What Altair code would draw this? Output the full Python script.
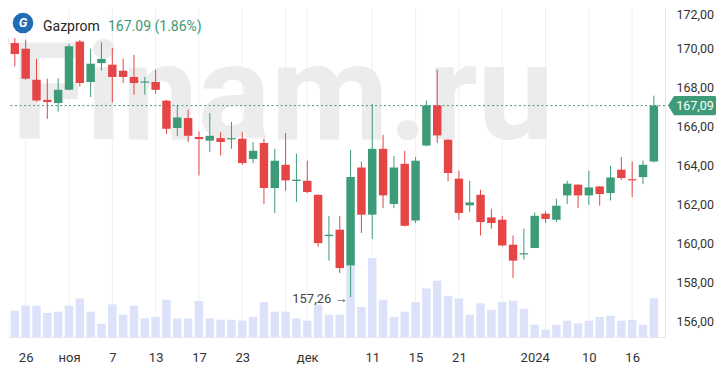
import altair as alt
import pandas as pd

# ---- data ----
idx = list(range(61))
opens = [170.50, 170.30, 170.01, 168.42, 167.39, 167.22, 167.90, 170.38, 168.30, 169.27,
         169.19, 168.88, 168.56, 168.27, 168.30, 167.34, 165.94, 166.45, 165.48, 165.29,
         165.42, 165.36, 165.39, 164.35, 165.17, 162.86, 164.05, 163.22, 163.23, 162.51,
         160.39, 160.72, 158.88, 163.91, 161.49, 164.87, 162.04, 164.10, 161.19, 165.04,
         167.10, 165.34, 163.34, 161.97, 162.51, 161.35, 161.23, 159.95, 159.45, 159.78,
         161.54, 161.23, 162.48, 163.03, 162.48, 162.94, 162.60, 163.80, 163.31, 163.42,
         164.22]
highs = [171.24, 170.56, 170.47, 169.49, 168.47, 168.50, 170.26, 170.47, 170.01, 170.33,
         170.04, 169.49, 169.70, 168.56, 168.93, 167.38, 167.13, 166.88, 165.76, 166.71,
         165.73, 166.25, 165.73, 165.22, 165.39, 164.87, 165.68, 164.62, 164.26, 162.53,
         161.43, 161.43, 164.82, 164.22, 167.17, 165.59, 164.50, 164.77, 164.45, 167.35,
         168.93, 165.36, 163.75, 163.23, 162.77, 161.79, 161.43, 160.42, 160.77, 161.60,
         161.66, 162.31, 163.23, 163.05, 163.75, 162.96, 164.00, 164.45, 164.22, 164.26,
         167.60]
lows = [169.85, 169.10, 168.42, 167.29, 166.41, 166.79, 167.88, 168.07, 167.53, 168.89,
        167.25, 168.25, 167.65, 167.65, 167.70, 165.64, 165.54, 165.22, 163.50, 164.71,
        164.53, 164.87, 164.05, 164.14, 162.04, 161.57, 162.72, 162.14, 162.60, 159.86,
        159.13, 158.49, 157.26, 160.55, 160.24, 161.83, 161.83, 160.89, 161.06, 165.00,
        165.17, 163.20, 161.23, 161.62, 160.42, 160.77, 159.86, 158.24, 159.18, 159.78,
        161.06, 161.11, 162.04, 161.83, 162.00, 161.95, 162.22, 163.28, 162.40, 163.06,
        164.17]
closes = [170.25, 169.74, 168.47, 167.35, 167.27, 167.90, 170.13, 168.25, 169.24, 169.49,
          168.56, 168.56, 168.25, 168.33, 167.90, 165.90, 166.48, 165.54, 165.37, 165.54,
          165.22, 165.42, 164.14, 164.77, 162.86, 164.26, 163.25, 163.29, 162.65, 160.03,
          160.46, 158.75, 163.42, 161.49, 164.87, 162.48, 163.91, 160.92, 164.26, 167.10,
          165.56, 163.63, 161.58, 162.12, 161.11, 161.06, 159.91, 159.13, 159.51, 161.43,
          161.27, 161.95, 163.08, 162.48, 162.89, 162.55, 163.40, 163.37, 163.25, 164.05,
          167.09]
volumes = [24.0, 26.3, 31.3, 31.3, 24.0, 25.3, 31.3, 38.6, 25.3, 13.3,
           32.6, 22.3, 31.3, 18.6, 20.0, 37.3, 18.6, 18.6, 36.0, 18.6,
           17.3, 17.3, 16.3, 20.0, 35.0, 25.3, 25.3, 18.6, 16.3, 32.3,
           22.3, 22.3, 71.0, 30.0, 79.0, 37.3, 20.0, 25.3, 35.0, 48.6,
           56.3, 41.3, 38.6, 22.3, 33.6, 27.3, 35.0, 36.3, 28.3, 12.3,
           7.3, 12.3, 16.3, 13.6, 16.3, 20.0, 21.3, 16.3, 17.3, 12.3,
           38.6]
tick_idx = [2, 6, 10, 14, 18, 22, 28, 34, 38, 42, 49, 54, 58]
tick_labels = ["26", "ноя", "7", "13", "17", "23", "дек", "11", "15", "21", "2024", "10", "16"]
grid_idx = [2, 6, 10, 14, 18, 22, 26, 28, 34, 38, 42, 46, 50, 54, 58]
price_ticks = [156, 158, 160, 162, 164, 166, 168, 170, 172]
last_price = 167.09
change_pct = 1.86
low_idx = 32
low_value = 157.26
ticker = "Gazprom"
watermark = "Finam.ru"

GREEN = "#3e9b78"
RED = "#e54545"
VOL = "#dde2fb"
GRID = "#eef0f4"
FONT = "Roboto"

df = pd.DataFrame({"i": idx, "o": opens, "h": highs, "l": lows, "c": closes, "v": volumes})
df["dir"] = ["up" if c >= o else "down" for o, c in zip(opens, closes)]

x_scale = alt.Scale(domain=[0.369, 61.03], nice=False, zero=False)
x_axis = alt.Axis(
    values=tick_idx,
    labelExpr="%s[indexof(%s, datum.value)]" % (
        "[" + ",".join("'%s'" % t for t in tick_labels) + "]",
        "[" + ",".join(str(t) for t in tick_idx) + "]"),
    grid=False, ticks=False, domain=True, domainColor="#e6e8ee",
    labelPadding=14, labelFontSize=13, labelFont=FONT, labelColor="#333333",
    labelOverlap=False, labelFlush=False, title=None)
p_scale = alt.Scale(domain=[155.21, 172.10], nice=False, zero=False)
y_axis = alt.Axis(
    orient="right", values=price_ticks,
    labelExpr="replace(format(datum.value, '.2f'), '.', ',')",
    ticks=False, domain=True, domainColor="#e3e6ec", gridColor=GRID,
    labelFontSize=12.5, labelFont=FONT, labelColor="#333333", labelPadding=11,
    labelOverlap=False,
    labelOffset={"condition": {"test": "datum.value == 172", "value": 5}, "value": 0},
    title=None)


def X(f):
    return alt.X(f, scale=x_scale, axis=x_axis, title=None)


def Y(f):
    return alt.Y(f, scale=p_scale, axis=y_axis, title=None)


color = alt.Color("dir:N", scale=alt.Scale(domain=["up", "down"], range=[GREEN, RED]), legend=None)

# ---- bottom (volume) layer ----
vgrid = alt.Chart(pd.DataFrame({"g": grid_idx})).mark_rule(color=GRID, strokeWidth=1).encode(x=X("g:Q"))
wm = alt.Chart(pd.DataFrame({"t": [watermark]})).mark_text(
    text=watermark, font=FONT, fontSize=136, fontWeight="bold", color="#ececec",
    align="left", baseline="alphabetic").encode(x=alt.value(3), y=alt.value(131))
vol = alt.Chart(df).transform_calculate(
    x1="datum.i - 0.39", x2="datum.i + 0.39").mark_rect(color=VOL, clip=True).encode(
    x=X("x1:Q"), x2="x2:Q",
    y=alt.Y("v:Q", scale=alt.Scale(domain=[0, 329], nice=False), axis=None),
    y2=alt.datum(0))
bottom = alt.layer(vgrid, wm, vol)

# ---- price layer ----
dash = alt.Chart(pd.DataFrame({"p": [last_price]})).mark_rule(
    color=GREEN, strokeDash=[2, 2.5], strokeWidth=1).encode(y=Y("p:Q"))
wicks = alt.Chart(df).mark_rule(strokeWidth=1, clip=True).encode(
    x=X("i:Q"), y=Y("l:Q"), y2="h:Q", color=color)
bodies = alt.Chart(df).transform_calculate(
    x1="datum.i - 0.39", x2="datum.i + 0.39").mark_rect(clip=True).encode(
    x=X("x1:Q"), x2="x2:Q", y=Y("o:Q"), y2="c:Q", color=color)
low_df = pd.DataFrame({"i": [low_idx], "p": [low_value],
                       "t": [("%.2f" % low_value).replace(".", ",") + " →"]})
annot = alt.Chart(low_df).mark_text(
    font=FONT, fontSize=13, color="#444444", align="right", baseline="middle", dx=-3, dy=1.5
).encode(x=X("i:Q"), y=Y("p:Q"), text="t:N")

one = pd.DataFrame({"k": [0]})
logo = alt.Chart(one).mark_point(shape="circle", filled=True, size=424, color="#1f6db4", opacity=1).encode(
    x=alt.value(15), y=alt.value(15))
logo_g = alt.Chart(one).mark_text(text="G", font=FONT, fontSize=13, fontWeight="bold", fontStyle="italic",
                                  color="white", align="center", baseline="middle").encode(
    x=alt.value(15), y=alt.value(15))
name = alt.Chart(one).mark_text(text=ticker, font=FONT, fontSize=14, color="#262626",
                                align="left", baseline="alphabetic").encode(x=alt.value(35), y=alt.value(23))
price_txt = alt.Chart(one).mark_text(
    text="%.2f (%.2f%%)" % (last_price, change_pct), font=FONT, fontSize=14, color="#3a9a74",
    align="left", baseline="alphabetic").encode(x=alt.value(100), y=alt.value(23))

tag_df = pd.DataFrame({"p": [last_price], "t": [("%.2f" % last_price).replace(".", ",")]})
tag_path = "M -1 0 L -0.75 -0.4 L 0.94 -0.4 Q 1 -0.4 1 -0.34 L 1 0.34 Q 1 0.4 0.94 0.4 L -0.75 0.4 Z"
tag = alt.Chart(tag_df).mark_point(shape=tag_path, filled=True, size=2304, color=GREEN, opacity=1,
                                   strokeWidth=0).encode(x=alt.value(684), y=Y("p:Q"))
tag_txt = alt.Chart(tag_df).mark_text(font=FONT, fontSize=12.5, color="white", align="center",
                                      baseline="middle").encode(x=alt.value(687), y=Y("p:Q"), text="t:N")

top = alt.layer(dash, wicks, bodies, annot, logo, logo_g, name, price_txt, tag, tag_txt)

chart = alt.layer(bottom, top).resolve_scale(y="independent").properties(
    width=657, height=329,
    autosize=alt.AutoSizeParams(type="none"),
    padding={"left": 0, "top": 0, "right": 51, "bottom": 29},
    background="white",
).configure_view(strokeWidth=0)

chart.save("out.html", embed_options={"renderer": "svg", "actions": False})
